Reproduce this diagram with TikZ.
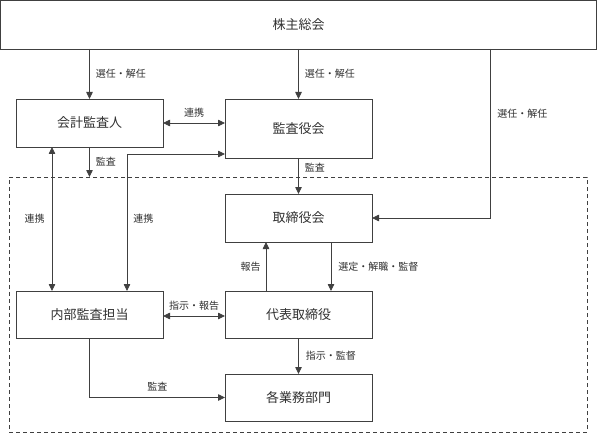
\documentclass[tikz,border=0pt]{standalone}
\usepackage{fontspec}
\setmainfont{Noto Sans CJK JP}
\usetikzlibrary{arrows.meta}
\definecolor{lncol}{HTML}{404040}
\definecolor{txcol}{HTML}{303030}
\tikzset{
  orgbox/.style={draw=lncol, line width=0.9pt, inner sep=0pt, outer sep=0pt,
    minimum width=147pt, minimum height=48pt, font=\fontsize{13}{15}\selectfont, text=txcol},
  conn/.style={draw=lncol, line width=0.8pt, -{Triangle[length=7pt,width=6.5pt]}},
  dconn/.style={draw=lncol, line width=0.8pt, {Triangle[length=7pt,width=6.5pt]}-{Triangle[length=7pt,width=6.5pt]}},
  lbl/.style={font=\fontsize{10}{12}\selectfont, text=txcol, inner sep=0pt},
  grpbox/.style={draw=lncol, line width=0.8pt, dash pattern=on 4pt off 3pt, inner sep=0pt, outer sep=0pt}
}
\begin{document}
\begin{tikzpicture}[x=1pt,y=-1pt]
\useasboundingbox (0,0) rectangle (597,433);
% group (dashed)
\node[grpbox, minimum width=578pt, minimum height=255pt] (grp) at (298,304.5) {};
% boxes
\node[orgbox, minimum width=596pt, minimum height=48.5pt] (top) at (298.5,24.75) {株主総会};
\node[orgbox] (kaikei) at (89.5,123) {会計監査人};
\node[orgbox, minimum height=59pt] (kansa) at (298.5,128.5) {監査役会};
\node[orgbox] (tori) at (298.5,218) {取締役会};
\node[orgbox, minimum height=47pt] (naibu) at (89.5,314.5) {内部監査担当};
\node[orgbox, minimum height=47pt] (daihyo) at (298.5,314.5) {代表取締役};
\node[orgbox, minimum height=47pt] (gyomu) at (298.5,397.5) {各業務部門};
% connectors
\draw[conn] (top.south -| kaikei.north) -- node[lbl, right=6pt] {選任・解任} (kaikei.north);
\draw[conn] (top.south -| kansa.north) -- node[lbl, right=6pt] {選任・解任} (kansa.north);
\draw[conn] ([xshift=191.5pt]top.south) |- node[lbl, pos=0.19, right=7pt] {選任・解任} (tori.east);
\draw[dconn] (kaikei.east) -- node[lbl, above=5pt] {連携} ([yshift=5.5pt]kansa.west);
\draw[conn] (kaikei.south) -- node[lbl, right=6pt] {監査} (kaikei.south |- grp.north);
\draw[dconn] ([xshift=-37.5pt]kaikei.south) -- node[lbl, left=7pt] {連携} ([xshift=-37.5pt]naibu.north);
\draw[dconn] ([xshift=37.5pt]naibu.north) |- node[lbl, pos=0.263, right=6pt] {連携} ([yshift=-25.5pt]kansa.west);
\draw[conn] (kansa.south) -- node[lbl, pos=0.28, right=6pt] {監査} (tori.north);
\draw[conn] ([xshift=-32.5pt]daihyo.north) -- node[lbl, left=5pt] {報告} ([xshift=-32.5pt]tori.south);
\draw[conn] ([xshift=32.5pt]tori.south) -- node[lbl, right=7pt] {選定・解職・監督} ([xshift=32.5pt]daihyo.north);
\draw[dconn] ([yshift=-1.5pt]naibu.east) -- node[lbl, above=5pt] {指示・報告} ([yshift=-1.5pt]daihyo.west);
\draw[conn] (daihyo.south) -- node[lbl, right=7pt] {指示・監督} (gyomu.north);
\draw[conn] (naibu.south) |- node[lbl, pos=0.75, above=6pt] {監査} (gyomu.west);
\end{tikzpicture}
\end{document}
